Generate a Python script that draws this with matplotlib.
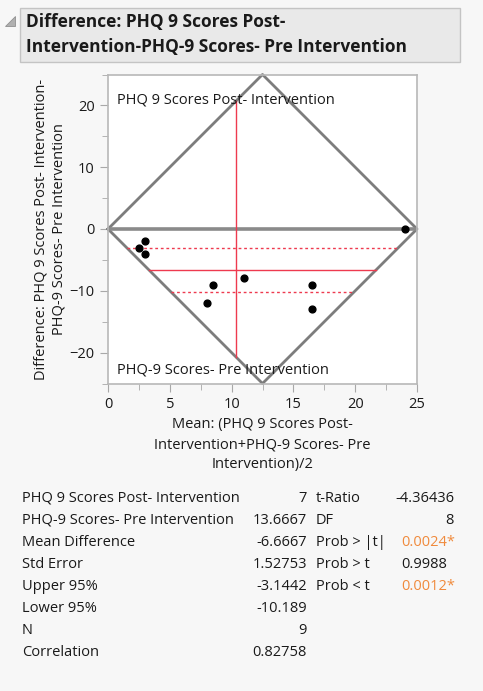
import numpy as np
import matplotlib.pyplot as plt
from matplotlib.patches import Rectangle, Polygon
from matplotlib.ticker import MultipleLocator

plt.rcParams['font.family'] = ['Open Sans', 'DejaVu Sans']

# paired scores per subject
post = [24, 1, 2, 1, 2, 4, 7, 12, 10]
pre = [24, 4, 4, 5, 14, 13, 15, 21, 23]
score_max = 25

mean_diff = -6.6667
upper95 = -3.1442
lower95 = -10.189

left_labels = ['PHQ 9 Scores Post- Intervention', 'PHQ-9 Scores- Pre Intervention',
               'Mean Difference', 'Std Error', 'Upper 95%', 'Lower 95%', 'N', 'Correlation']
left_values = ['7', '13.6667', '-6.6667', '1.52753', '-3.1442', '-10.189', '9', '0.82758']
right_labels = ['t-Ratio', 'DF', 'Prob > |t|', 'Prob > t', 'Prob < t']
right_values = ['-4.36436', '8', '0.0024*', '0.9988', '0.0012*']
right_signif = [False, False, True, False, True]

BG = '#f7f7f7'
GRAY = '#7d7d7d'
RED = '#ee3a4f'
ORANGE = '#f08a3c'
TXT = '#1a1a1a'
FS = 10.5

post = np.array(post, float)
pre = np.array(pre, float)
means = (post + pre) / 2
diffs = post - pre

fig = plt.figure(figsize=(4.83, 6.91), dpi=100, facecolor=BG)
W, H = 483, 691

def fx(px):
    return px / W

def fy(py):
    return 1 - py / H

# title box
fig.patches.append(Rectangle((fx(20), fy(62)), fx(440), 54 / H, transform=fig.transFigure,
                             facecolor='#e9e9e9', edgecolor='#c4c4c4', lw=1))
fig.patches.append(Polygon([[fx(5), fy(26)], [fx(15), fy(26)], [fx(15), fy(16)]], closed=True,
                           transform=fig.transFigure, facecolor='#b0b0b0', edgecolor='#909090', lw=0.6))
fig.text(fx(26), fy(22), 'Difference: PHQ 9 Scores Post-', fontsize=12.5, fontweight='bold',
         color=TXT, va='center', ha='left')
fig.text(fx(26), fy(47), 'Intervention-PHQ-9 Scores- Pre Intervention', fontsize=12.5,
         fontweight='bold', color=TXT, va='center', ha='left')

ax = fig.add_axes([fx(108), fy(383.5), 309 / W, 309 / H])
ax.set_facecolor('white')
ax.set_xlim(0, score_max)
ax.set_ylim(-score_max, score_max)

# diamond of feasible region
half = score_max / 2
ax.plot([0, half, score_max, half, 0], [0, score_max, 0, -score_max, 0],
        color=GRAY, lw=2, clip_on=False, zorder=2)
ax.plot([0, score_max], [0, 0], color='#8a8a8a', lw=2.6, zorder=2)

# mean line and CI (limited to diamond)
def span(d):
    return abs(d) / 2, score_max - abs(d) / 2

grand_mean = means.mean()
ax.plot([grand_mean, grand_mean], [-2 * grand_mean, 2 * grand_mean], color=RED, lw=1, zorder=3)
x0, x1 = span(mean_diff)
ax.plot([x0, x1], [mean_diff, mean_diff], color=RED, lw=1, zorder=3)
for d in (upper95, lower95):
    x0, x1 = span(d)
    ax.plot([x0, x1], [d, d], color=RED, lw=1, ls=(0, (2, 2)), zorder=3)

ax.scatter(means, diffs, s=24, color='black', zorder=4)

ax.text(0.7, 20.9, 'PHQ 9 Scores Post- Intervention', fontsize=FS, color=TXT, va='center')
ax.text(0.7, -22.8, 'PHQ-9 Scores- Pre Intervention', fontsize=FS, color=TXT, va='center')

ax.xaxis.set_major_locator(MultipleLocator(5))
ax.xaxis.set_minor_locator(MultipleLocator(2.5))
ax.yaxis.set_major_locator(MultipleLocator(10))
ax.yaxis.set_minor_locator(MultipleLocator(5))
ax.tick_params(which='both', direction='out', color='#a8a8a8', labelsize=FS, labelcolor=TXT)
ax.tick_params(which='major', length=6)
ax.tick_params(which='minor', length=4)
for s in ax.spines.values():
    s.set_color('#b8b8b8')
    s.set_linewidth(1.2)
ax.set_xlabel('Mean: (PHQ 9 Scores Post-\nIntervention+PHQ-9 Scores- Pre\nIntervention)/2',
              fontsize=FS, color=TXT, linespacing=1.45, labelpad=4)
ax.set_ylabel('Difference: PHQ 9 Scores Post- Intervention-\nPHQ-9 Scores- Pre Intervention',
              fontsize=FS, color=TXT, linespacing=1.35, labelpad=2)

# statistics table
row_y = 498
for i, (lab, val) in enumerate(zip(left_labels, left_values)):
    y = fy(row_y + 22 * i)
    fig.text(fx(22), y, lab, fontsize=FS, color=TXT, va='center', ha='left')
    fig.text(fx(307), y, val, fontsize=FS, color=TXT, va='center', ha='right')
for i, (lab, val, sig) in enumerate(zip(right_labels, right_values, right_signif)):
    y = fy(row_y + 22 * i)
    fig.text(fx(316), y, lab, fontsize=FS, color=TXT, va='center', ha='left')
    if val.startswith('0'):
        fig.text(fx(401), y, val, fontsize=FS, color=ORANGE if sig else TXT, va='center', ha='left')
    else:
        fig.text(fx(454), y, val, fontsize=FS, color=TXT, va='center', ha='right')

fig.savefig('out.png', dpi=100, facecolor=BG)
